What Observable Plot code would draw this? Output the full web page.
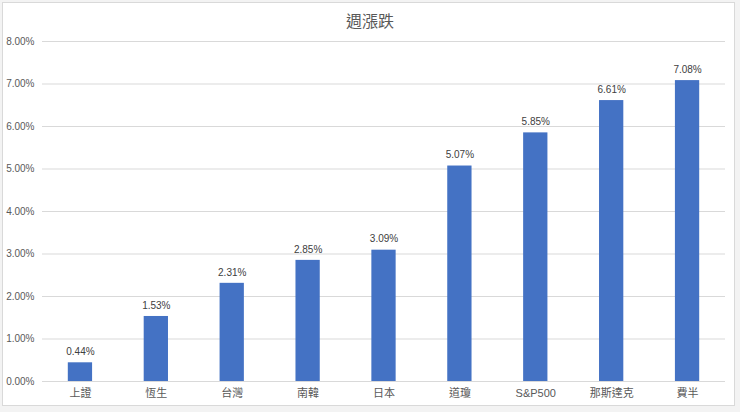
<!DOCTYPE html>
<html>
<head>
<meta charset="utf-8">
<script src="https://cdn.jsdelivr.net/npm/d3@7"></script>
<script src="https://cdn.jsdelivr.net/npm/@observablehq/plot@0.6"></script>
<style>
  html, body { margin: 0; padding: 0; background: #ffffff; }
  #wrap { position: relative; width: 740px; height: 412px; overflow: hidden; background: #f3f3f3; }
  #box { position: absolute; left: 2px; top: 2px; width: 733px; height: 404px; background: #fff; border: 1px solid #d9d9d9; box-sizing: border-box; }
  #chart { position: absolute; left: 0; top: 0; }
  #title { position: absolute; left: 0; top: 8px; width: 740px; text-align: center; font-family: "Noto Sans CJK TC", sans-serif; font-size: 16px; color: #595959; }
</style>
</head>
<body>
<div id="wrap">
  <div id="box"></div>
  <div id="chart"></div>
  <div id="title">週漲跌</div>
</div>
<script>
const categories = ["上證", "恆生", "台灣", "南韓", "日本", "道瓊", "S&P500", "那斯達克", "費半"];
const values = [0.44, 1.53, 2.31, 2.85, 3.09, 5.07, 5.85, 6.61, 7.08];
const yTicks = [0, 1, 2, 3, 4, 5, 6, 7, 8];

const data = categories.map((c, i) => ({ name: c, value: values[i] }));
const fmt = d => d.toFixed(2) + "%";

const chart = Plot.plot({
  width: 740,
  height: 412,
  marginTop: 41,
  marginBottom: 31,
  marginLeft: 42,
  marginRight: 15,
  style: { background: "transparent", fontFamily: "'Liberation Sans', 'Noto Sans CJK TC', sans-serif", color: "#595959" },
  x: { domain: categories, paddingInner: 0.68, paddingOuter: 0.34, round: false, label: null, tickSize: 0, tickPadding: 8 },
  y: { domain: [0, 8], ticks: yTicks, tickFormat: fmt, label: null, tickSize: 0, tickPadding: 8 },
  marks: [
    Plot.gridY(yTicks, { stroke: "#d9d9d9", strokeOpacity: 1 }),
    Plot.barY(data, { x: "name", y: "value", fill: "#4472C4" }),
    Plot.text(data, { x: "name", y: "value", text: d => fmt(d.value), dy: -11, fill: "#404040", fontSize: 10 }),
    Plot.axisX({ tickSize: 0, tickPadding: 8, fontSize: 11, fill: "#595959", label: null }),
    Plot.axisY({ ticks: yTicks, tickFormat: fmt, tickSize: 0, tickPadding: 8, fontSize: 10, fill: "#595959", label: null })
  ]
});
document.getElementById("chart").appendChild(chart);
</script>
</body>
</html>
